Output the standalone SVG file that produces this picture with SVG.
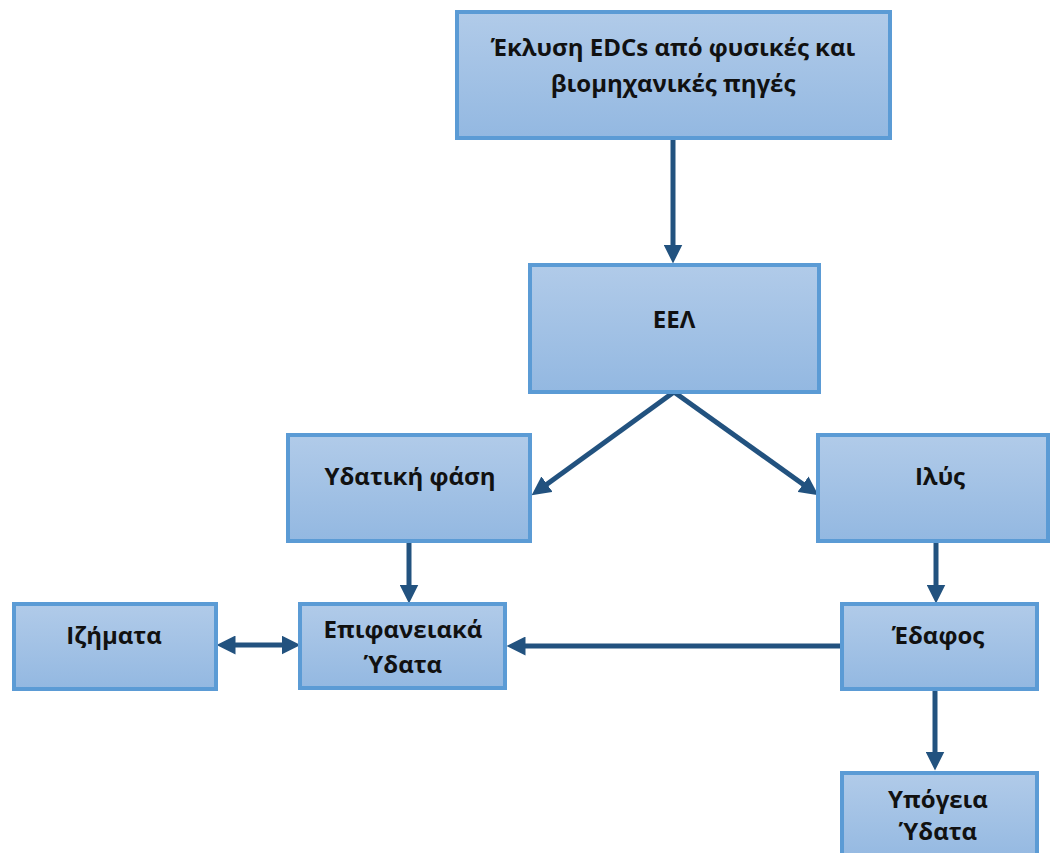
<svg xmlns="http://www.w3.org/2000/svg" width="1050" height="853" viewBox="0 0 1050 853">
<defs>
<linearGradient id="g" x1="0" y1="0" x2="0" y2="1">
<stop offset="0" stop-color="#b1cbe9"/>
<stop offset="1" stop-color="#93b8e1"/>
</linearGradient>
<marker id="ah" viewBox="0 0 10 10" refX="5" refY="5" markerWidth="3.8" markerHeight="3.8" orient="auto-start-reverse" markerUnits="strokeWidth">
<path d="M0,0 L10,5 L0,10 Z" fill="#22527f"/>
</marker>
<style>
.box{fill:url(#g);stroke:#5b9bd5;stroke-width:4}
.t{font-family:"Open Sans","Liberation Sans",Arial,sans-serif;font-weight:bold;font-size:24px;fill:#111;text-anchor:middle}
.c{stroke:#22527f;stroke-width:5;fill:none}
</style>
</defs>
<rect width="1050" height="853" fill="#fff"/>
<g id="connectors">
<line class="c" x1="673" y1="138" x2="673" y2="254" marker-end="url(#ah)"/>
<line class="c" x1="674" y1="392" x2="539.3" y2="489.7" marker-end="url(#ah)"/>
<line class="c" x1="674" y1="392" x2="810.7" y2="489.7" marker-end="url(#ah)"/>
<line class="c" x1="409" y1="541" x2="409" y2="594" marker-end="url(#ah)"/>
<line class="c" x1="936" y1="541" x2="936" y2="594" marker-end="url(#ah)"/>
<line class="c" x1="226" y1="645" x2="291" y2="645" marker-start="url(#ah)" marker-end="url(#ah)"/>
<line class="c" x1="842" y1="646" x2="516" y2="646" marker-end="url(#ah)"/>
<line class="c" x1="935" y1="689" x2="935" y2="761" marker-end="url(#ah)"/>
</g>
<g id="n1"><rect class="box" x="457" y="12" width="433" height="126"/>
<text class="t" x="673" y="56">Έκλυση EDCs από φυσικές και</text>
<text class="t" x="673" y="92">βιομηχανικές πηγές</text></g>
<g id="n2"><rect class="box" x="530" y="265" width="289" height="127"/>
<text class="t" x="674" y="328">ΕΕΛ</text></g>
<g id="n3"><rect class="box" x="288" y="435" width="242" height="106"/>
<text class="t" x="410" y="485">Υδατική φάση</text></g>
<g id="n4"><rect class="box" x="818" y="435" width="230" height="106"/>
<text class="t" x="940" y="485">Ιλύς</text></g>
<g id="n5"><rect class="box" x="14" y="604" width="202" height="85"/>
<text class="t" x="114" y="644">Ιζήματα</text></g>
<g id="n6"><rect class="box" x="300" y="604" width="205" height="84"/>
<text class="t" x="403" y="638">Επιφανειακά</text>
<text class="t" x="403" y="673">Ύδατα</text></g>
<g id="n7"><rect class="box" x="842" y="604" width="195" height="85"/>
<text class="t" x="938" y="644">Έδαφος</text></g>
<g id="n8"><rect class="box" x="842" y="773" width="195" height="90"/>
<text class="t" x="938" y="808">Υπόγεια</text>
<text class="t" x="938" y="840">Ύδατα</text></g>
</svg>
